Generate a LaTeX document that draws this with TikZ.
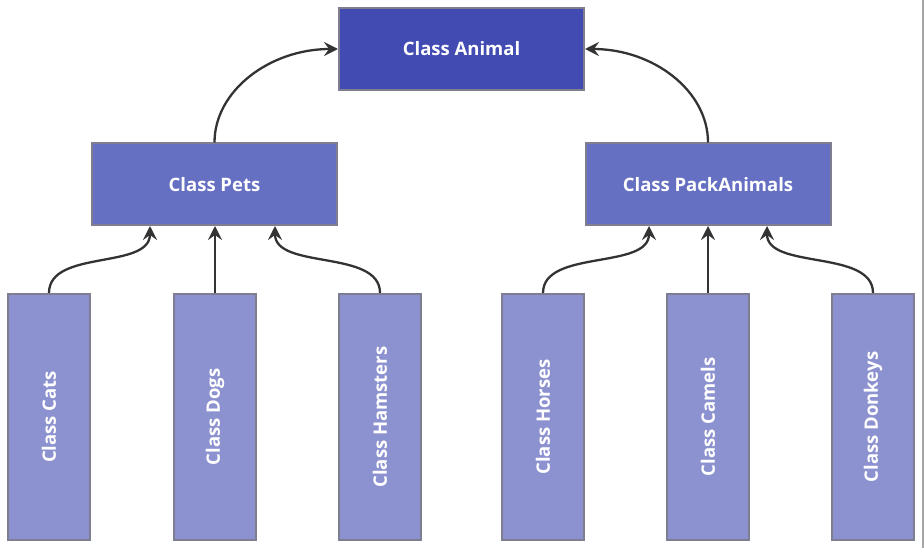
\documentclass[tikz,border=0pt]{standalone}
\usepackage{fontspec}
\setmainfont{Open Sans}
\usetikzlibrary{arrows.meta}
\definecolor{topfill}{HTML}{414BB2}
\definecolor{midfill}{HTML}{6670C2}
\definecolor{lowfill}{HTML}{8C91CF}
\definecolor{boxline}{HTML}{7E7E90}
\definecolor{arrowcol}{HTML}{333333}
\tikzset{
  classbox/.style={draw=boxline, line width=2pt, text=white, font=\fontsize{18.5}{22}\selectfont\bfseries, inner sep=0pt},
  wide/.style={classbox, minimum width=245pt, minimum height=82pt},
  tall/.style={classbox, minimum width=82pt, minimum height=246pt, fill=lowfill},
  link/.style={draw=arrowcol, line width=2.3pt, -{Stealth[length=14pt,width=14pt,inset=5pt]}}
}
\begin{document}
\begin{tikzpicture}[x=1pt,y=-1pt]
\useasboundingbox (0,0) rectangle (924,548);
\draw[gray!70, line width=1.5pt] (923,0) -- (923,548);
\node[wide, fill=topfill] (animal) at (461.5,49) {Class Animal};
\node[wide, fill=midfill] (pets) at (214.5,184.5) {Class Pets};
\node[wide, fill=midfill] (pack) at (708,184.5) {Class PackAnimals};
\node[tall] (cats) at (49,417) {\rotatebox{90}{Class Cats}};
\node[tall] (dogs) at (215,417) {\rotatebox{90}{Class Dogs}};
\node[tall] (hamsters) at (380,417) {\rotatebox{90}{Class Hamsters}};
\node[tall] (horses) at (543,417) {\rotatebox{90}{Class Horses}};
\node[tall] (camels) at (708,417) {\rotatebox{90}{Class Camels}};
\node[tall] (donkeys) at (873,417) {\rotatebox{90}{Class Donkeys}};
\coordinate (pa) at (150,226);
\coordinate (pb) at (215,226);
\coordinate (pc) at (275,226);
\coordinate (qa) at (649,226);
\coordinate (qb) at (708,226);
\coordinate (qc) at (767,226);
\draw[link] (pets.north) .. controls +(0,-52) and +(-68,0) .. (animal.west);
\draw[link] (pack.north) .. controls +(0,-52) and +(68,0) .. (animal.east);
\draw[link] (cats.north) .. controls +(0,-44) and +(0,44) .. (pa);
\draw[link] (dogs.north) -- (pb);
\draw[link] (hamsters.north) .. controls +(0,-44) and +(0,44) .. (pc);
\draw[link] (horses.north) .. controls +(0,-44) and +(0,44) .. (qa);
\draw[link] (camels.north) -- (qb);
\draw[link] (donkeys.north) .. controls +(0,-44) and +(0,44) .. (qc);
\end{tikzpicture}
\end{document}
